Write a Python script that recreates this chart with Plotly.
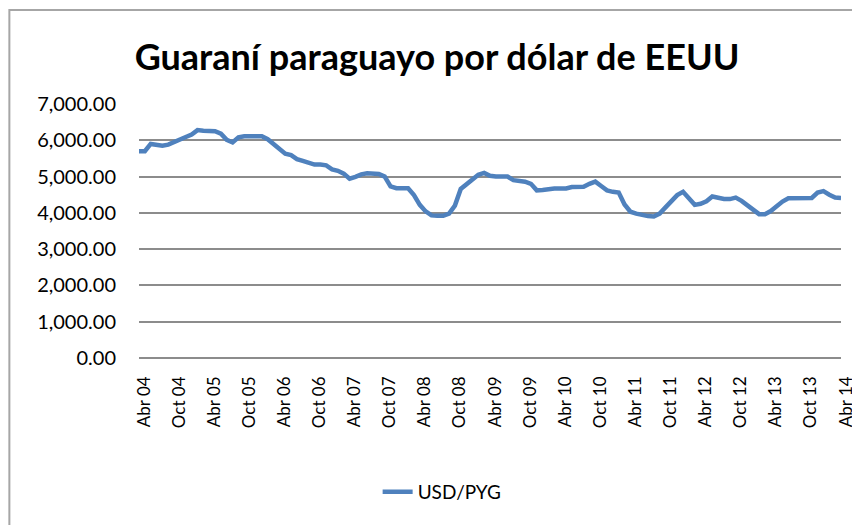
import plotly.graph_objects as go

# Monthly USD/PYG, Apr 2004 .. Apr 2014
usd_pyg = [
    5700, 5700, 5900, 5860, 5850, 5880, 5940, 6020, 6090, 6160,
    6280, 6260, 6250, 6250, 6180, 6010, 5940, 6080, 6110, 6110,
    6110, 6110, 6030, 5890, 5790, 5630, 5590, 5480, 5430, 5390,
    5330, 5330, 5310, 5200, 5160, 5080, 4940, 4990, 5060, 5090,
    5090, 5070, 5000, 4730, 4680, 4680, 4680, 4490, 4220, 4040,
    3930, 3920, 3920, 3980, 4200, 4660, 4790, 4925, 5050, 5100,
    5020, 5000, 5000, 5000, 4900, 4890, 4860, 4800, 4620, 4630,
    4660, 4670, 4670, 4670, 4710, 4720, 4720, 4800, 4860, 4740,
    4620, 4580, 4560, 4230, 4030, 3980, 3940, 3910, 3900, 3980,
    4150, 4330, 4490, 4580, 4420, 4220, 4250, 4320, 4450, 4400,
    4380, 4380, 4420, 4330, 4200, 4080, 3965, 3965, 4050, 4180,
    4310, 4400, 4410, 4410, 4410, 4410, 4560, 4600, 4500, 4420,
    4410,
]
months = list(range(len(usd_pyg)))

tick_labels = [
    "Abr 04", "Oct 04", "Abr 05", "Oct 05", "Abr 06", "Oct 06", "Abr 07",
    "Oct 07", "Abr 08", "Oct 08", "Abr 09", "Oct 09", "Abr 10", "Oct 10",
    "Abr 11", "Oct 11", "Abr 12", "Oct 12", "Abr 13", "Oct 13", "Abr 14",
]
tick_positions = list(range(0, 121, 6))
y_ticks = [0, 1000, 2000, 3000, 4000, 5000, 6000, 7000]
y_tick_text = [f"{v:,.2f}" for v in y_ticks]

series_name = "USD/PYG"
title_text = "Guaraní paraguayo por dólar de EEUU"

FONT = "Lato"
GRID = "#8c8c8c"

# the page body adds an 8px offset; layout numbers below are page pixels
OFF = 8
W, H = 860, 525
L, R = 139 - OFF, W - (843 - OFF)
T, B = 104 - OFF, H - (358 - OFF)
pw, ph = W - L - R, H - T - B


def px_x(x):
    return (x - OFF - L) / pw


def px_y(y):
    return (H - B - (y - OFF)) / ph


fig = go.Figure()
fig.add_trace(go.Scatter(
    x=months, y=usd_pyg, mode="lines", name=series_name,
    line=dict(color="#4f81bd", width=4.5),
))

fig.update_layout(
    width=W, height=H,
    margin=dict(l=L, r=R, t=T, b=B, pad=0),
    paper_bgcolor="white", plot_bgcolor="white",
    font=dict(family=FONT, color="#000000"),
    title=dict(
        text=title_text, x=(437 - OFF) / W, xanchor="center",
        y=1 - (57 - OFF) / H, yanchor="middle",
        font=dict(family=FONT, size=36, color="#000000", weight="bold"),
    ),
    showlegend=True,
    legend=dict(
        orientation="h", x=px_x(443), xanchor="center",
        y=px_y(492), yanchor="middle",
        font=dict(family=FONT, size=19, color="#000000"),
        bgcolor="rgba(0,0,0,0)",
    ),
    xaxis=dict(
        range=[0, 120], tickmode="array", tickvals=tick_positions,
        ticktext=tick_labels, tickangle=-90, showgrid=False,
        zeroline=False, showline=False, ticks="",
        tickfont=dict(family=FONT, size=17, color="#000000"),
        ticklabelshift=5, ticklabelstandoff=14,
    ),
    yaxis=dict(
        range=[0, 7000], tickmode="array", tickvals=y_ticks,
        ticktext=y_tick_text, showgrid=True, gridcolor=GRID, gridwidth=1.5,
        zeroline=True, zerolinecolor=GRID, zerolinewidth=1.5,
        showline=False, ticks="",
        tickfont=dict(family=FONT, size=20, color="#000000"),
        ticklabelstandoff=22,
    ),
    shapes=[dict(
        type="rect", xref="paper", yref="paper",
        x0=px_x(9), x1=px_x(875),
        y0=px_y(545), y1=px_y(10),
        line=dict(color="#a6a6a6", width=2), fillcolor="rgba(0,0,0,0)",
        layer="below",
    )],
)

fig.write_html("out.html")
